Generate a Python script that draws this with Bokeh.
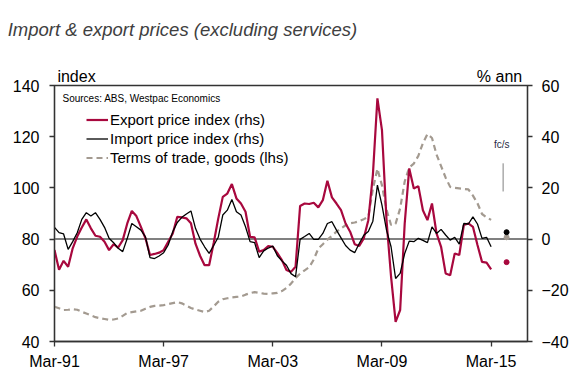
from bokeh.plotting import figure
from bokeh.models import (Range1d, LinearAxis, FixedTicker, Span, Label,
                          Legend, LegendItem)
from bokeh.embed import file_html
from bokeh.resources import INLINE

# ---------------- data (quarterly, Mar-91 .. Mar-15) ----------------
start_year = 1991.0
export_yoy = [-4.3, -12.0, -8.5, -10.8, -3.6, 1.0, 4.5, 7.7, 4.2, 1.3,
              0.9, -1.0, -4.3, -2.0, -3.3, -0.4, 6.1, 11.0, 9.0, 4.8,
              0.3, -6.2, -5.8, -5.3, -4.3, -1.0, 2.2, 8.7, 8.5, 8.1,
              6.2, -1.8, -6.5, -10.2, -10.2, -1.5, 8.0, 16.5, 17.8, 21.5,
              15.9, 13.9, 10.7, 0.9, 0.7, -4.9, -4.3, -2.7, -3.0, -5.5,
              -8.2, -12.1, -12.8, -10.8, 12.9, 13.9, 13.7, 14.2, 12.4, 15.2,
              22.8, 16.3, 13.9, 11.3, 6.1, 2.9, -2.0, -2.7, 0.3, 7.4,
              25.0, 55.0, 42.6, 7.4, -14.7, -32.3, -27.7, 6.1, 27.6, 19.8,
              20.7, 11.3, 7.4, 13.9, 2.2, -3.0, -13.4, -14.1, -5.6, -6.2,
              5.5, 6.1, 4.8, -2.3, -8.9, -9.2, -11.8]
import_yoy = [4.6, 2.5, 2.0, -4.0, -1.0, 2.5, 7.7, 10.3, 9.0, 10.3,
              7.7, 4.6, 0.3, -1.4, -3.6, -4.9, 0.3, 6.1, 4.8, 3.5,
              0.9, -7.2, -7.6, -6.6, -5.3, -2.3, 2.9, 6.5, 8.5, 9.8,
              11.0, 4.2, 0.0, -3.0, -5.6, -2.5, 0.7, 9.4, 11.3, 15.5,
              10.7, 9.4, 4.8, -1.0, -1.4, -7.2, -4.6, -3.5, -2.7, -6.5,
              -8.5, -10.2, -13.5, -14.7, -0.1, 1.0, 2.2, -0.1, -0.1, 2.2,
              6.1, 6.8, 3.5, 0.5, -2.5, -4.3, -5.3, -1.7, 1.5, 3.0,
              7.0, 21.1, 13.3, 3.5, -3.0, -15.4, -13.4, -5.6, -0.8, -1.0,
              0.3, -0.5, -1.4, 4.8, 2.2, 3.8, 1.6, -0.4, 0.7, -2.0,
              6.1, 5.9, 8.7, 5.9, 0.3, 0.7, -3.0]
tot_goods = [53.6, 53.0, 52.3, 52.4, 52.6, 52.4, 51.6, 50.9, 50.2, 49.5,
             49.1, 48.8, 48.5, 48.6, 49.0, 50.0, 51.2, 51.5, 51.8, 52.0,
             52.8, 53.5, 53.9, 54.0, 54.2, 54.6, 55.0, 55.4, 54.9, 54.0,
             53.1, 52.5, 52.0, 51.5, 52.0, 53.7, 55.5, 56.5, 56.9, 57.2,
             57.4, 57.6, 58.3, 58.9, 59.3, 59.0, 58.7, 58.6, 58.8, 59.0,
             59.7, 60.9, 62.6, 64.8, 66.5, 67.8, 69.0, 72.0, 76.3, 78.0,
             79.8, 81.3, 82.9, 84.2, 85.4, 86.2, 86.5, 87.0, 87.8, 88.7,
             99.5, 107.5, 101.0, 91.5, 85.5, 86.0, 92.0, 102.5, 108.0, 109.5,
             112.5, 117.5, 121.0, 119.5, 113.0, 108.5, 104.0, 100.4, 100.0, 99.8,
             99.6, 99.4, 97.0, 94.0, 89.8, 88.5, 87.5]

# forecasts
fc_year = 2015.85
fc_export = -9.0
fc_import = 2.7
fc_tot = 80.7

tick_years = [1991, 1997, 2003, 2009, 2015]
tick_labels = ["Mar-91", "Mar-97", "Mar-03", "Mar-09", "Mar-15"]
lhs_ticks = [40, 60, 80, 100, 120, 140]
rhs_ticks = [-40, -20, 0, 20, 40, 60]
unit_labels = {22: "index", 445: "% ann"}
title_text = {128: "Import & export prices (excluding services)"}

x_exp = [start_year + 0.25 * i for i in range(len(export_yoy))]
x_imp = [start_year + 0.25 * i for i in range(len(import_yoy))]
x_tot = [start_year + 0.25 * i for i in range(len(tot_goods))]

RED = "#A8083E"
BLACK = "#000000"
TAUPE = "#A39A90"
AXIS = "#333333"
FONT = "Liberation Sans"

p = figure(width=573, height=380, x_range=Range1d(1991, 2017),
           y_range=Range1d(40, 140), output_backend="svg", title=None,
           toolbar_location=None, min_border_left=54, min_border_right=46,
           min_border_top=85, min_border_bottom=39)
p.extra_y_ranges = {"rhs": Range1d(-40, 60)}
p.extra_x_ranges = {"units": Range1d(0, 473)}

xax = p.below[0]
yax = p.left[0]
rax = LinearAxis(y_range_name="rhs")
p.add_layout(rax, "right")


def text_axis(labels, size, style, standoff, color):
    ax = LinearAxis(x_range_name="units", ticker=FixedTicker(ticks=list(labels.keys())),
                    major_label_overrides=labels)
    ax.axis_line_color = None
    ax.major_tick_line_color = None
    ax.minor_tick_line_color = None
    ax.major_tick_out = 0
    ax.major_tick_in = 0
    ax.major_label_standoff = standoff
    ax.major_label_text_font = FONT
    ax.major_label_text_font_size = size
    ax.major_label_text_font_style = style
    ax.major_label_text_color = color
    return ax


# unit labels ("index", "% ann") just above the frame, title above them
p.add_layout(text_axis(unit_labels, "16px", "normal", 1, "#000000"), "above")
p.add_layout(text_axis(title_text, "18.5px", "italic", 25, "#404040"), "above")

p.xgrid.visible = False
p.ygrid.visible = False
p.outline_line_color = AXIS
p.outline_line_width = 1.3
p.background_fill_color = "white"
p.border_fill_color = "white"

xax.ticker = FixedTicker(ticks=tick_years)
xax.major_label_overrides = {y: l for y, l in zip(tick_years, tick_labels)}
yax.ticker = FixedTicker(ticks=lhs_ticks)
rax.ticker = FixedTicker(ticks=rhs_ticks)

for ax in [xax, yax, rax]:
    ax.axis_line_color = AXIS
    ax.axis_line_width = 1.3
    ax.major_tick_line_color = AXIS
    ax.major_tick_line_width = 1.3
    ax.major_tick_out = 5
    ax.major_tick_in = 0
    ax.minor_tick_line_color = None
    ax.major_label_text_font = FONT
    ax.major_label_text_font_size = "16px"
    ax.major_label_text_color = "#000000"
xax.major_label_standoff = 6
yax.major_label_standoff = 10
rax.major_label_standoff = 9

zero = Span(location=80, dimension="width", line_color="#808080",
            line_width=2, level="underlay")
p.add_layout(zero)

r_tot = p.line(x_tot, tot_goods, line_color=TAUPE, line_width=2.2,
               line_dash="6 4")
r_exp = p.line(x_exp, export_yoy, line_color=RED, line_width=2.2,
               y_range_name="rhs")
r_imp = p.line(x_imp, import_yoy, line_color=BLACK, line_width=1.3,
               y_range_name="rhs")

p.scatter([fc_year], [fc_tot], size=5, color=TAUPE)
p.scatter([fc_year], [fc_import], size=5, color=BLACK, y_range_name="rhs")
p.scatter([fc_year], [fc_export], size=5, color=RED, y_range_name="rhs")

# forecast marker
p.segment(x0=[2015.66], y0=[98.6], x1=[2015.66], y1=[109.6],
          line_color="#808080", line_width=1)
p.add_layout(Label(x=2015.58, y=117, text="fc/s", text_font=FONT,
                   text_font_size="10px", text_color="#1F2A44",
                   text_align="center", text_baseline="middle"))

legend = Legend(items=[
    LegendItem(label="Export price index (rhs)", renderers=[r_exp]),
    LegendItem(label="Import price index (rhs)", renderers=[r_imp]),
    LegendItem(label="Terms of trade, goods (lhs)", renderers=[r_tot]),
], location=(32, 174))
legend.background_fill_alpha = 0
legend.border_line_alpha = 0
legend.padding = 0
legend.margin = 0
legend.spacing = 0
legend.label_height = 19
legend.glyph_height = 19
legend.glyph_width = 22
legend.label_standoff = 2
legend.label_text_font = FONT
legend.label_text_font_size = "15px"
legend.label_text_color = "#000000"
p.add_layout(legend)

p.add_layout(Label(x=1991, y=140, x_offset=8, y_offset=-13,
                   text="Sources: ABS, Westpac Economics", text_font=FONT,
                   text_font_size="10px", text_color="#000000",
                   text_baseline="middle"))

open("out.html", "w").write(file_html(p, INLINE))
